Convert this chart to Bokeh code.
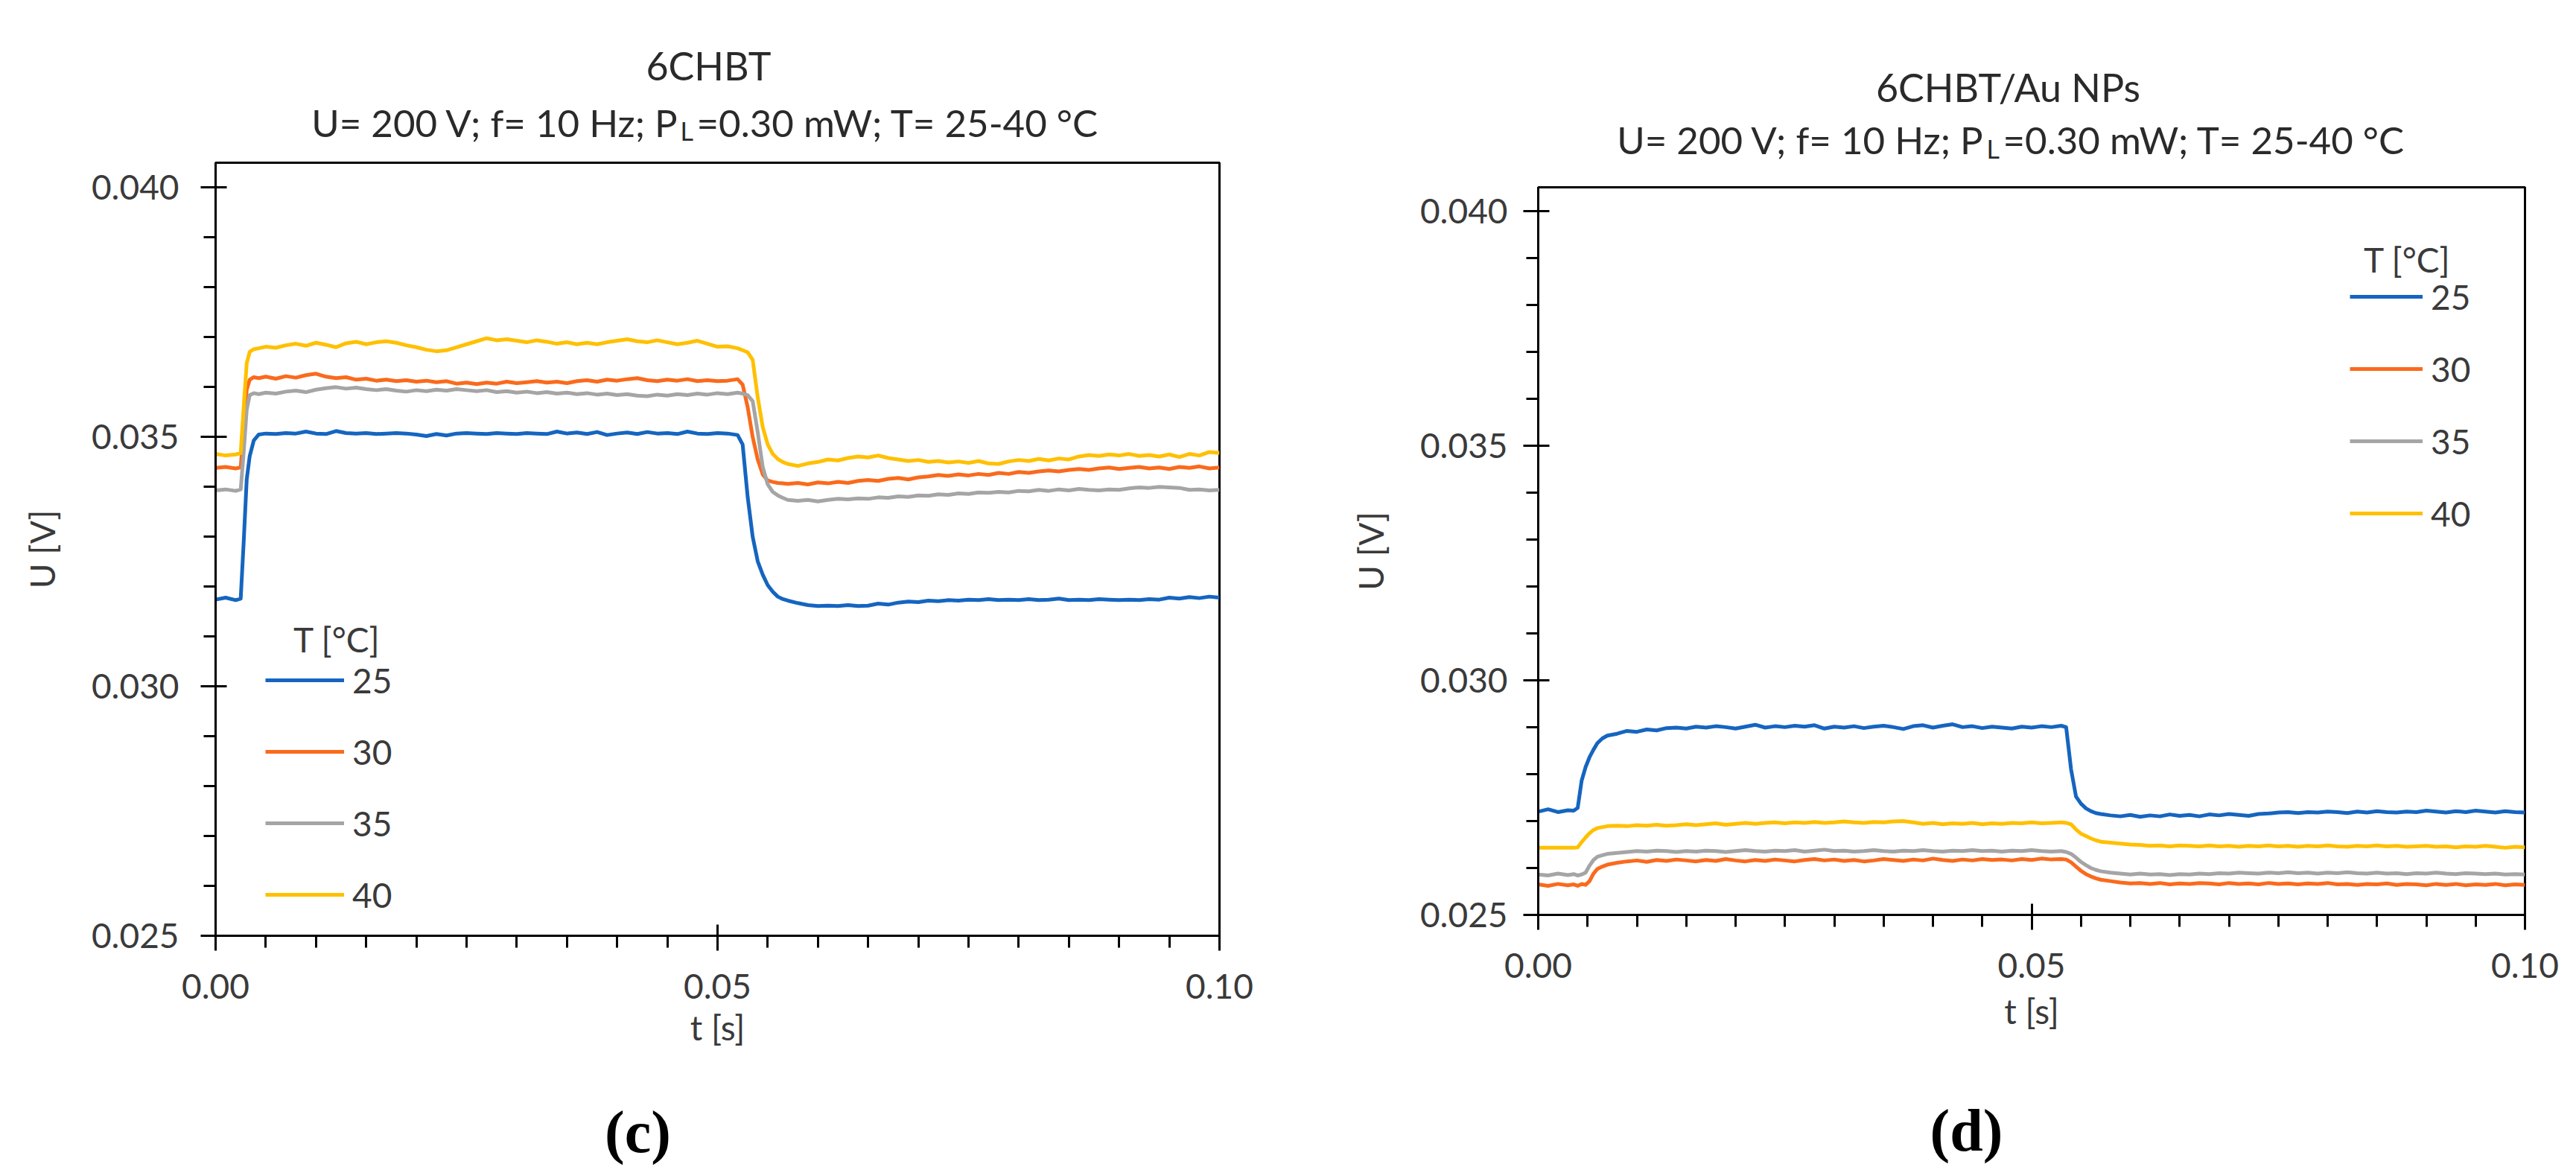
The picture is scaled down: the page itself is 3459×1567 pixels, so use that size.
from bokeh.plotting import figure
from bokeh.models import (ColumnDataSource, Range1d, SingleIntervalTicker,
                          NumeralTickFormatter, Legend, LegendItem, Label)
from bokeh.layouts import row, column
from bokeh.embed import file_html
from bokeh.resources import INLINE

# ---------------- data ----------------
temps = ["25", "30", "35", "40"]
colors = ["#1565C0", "#FA6A1C", "#A5A5A5", "#FFC000"]

# panel (c): 6CHBT
t_c = [0.0, 0.001, 0.002, 0.0025, 0.0028, 0.0031, 0.0034, 0.0038, 0.0043,
       0.005, 0.006, 0.007, 0.008, 0.009, 0.010, 0.011, 0.012,
       0.013, 0.014, 0.015, 0.016, 0.017, 0.018, 0.019, 0.020,
       0.021, 0.022, 0.023, 0.024, 0.025, 0.026, 0.027, 0.028,
       0.029, 0.030, 0.031, 0.032, 0.033, 0.034, 0.035, 0.036,
       0.037, 0.038, 0.039, 0.040, 0.041, 0.042, 0.043, 0.044,
       0.045, 0.046, 0.047, 0.048, 0.049, 0.050, 0.051, 0.052,
       0.0525, 0.053, 0.0535, 0.054, 0.0545, 0.055, 0.0555, 0.056, 0.0565,
       0.057, 0.058, 0.059, 0.060, 0.061, 0.062, 0.063, 0.064, 0.065, 0.066, 0.067,
       0.068, 0.069, 0.070, 0.071, 0.072, 0.073, 0.074, 0.075, 0.076, 0.077, 0.078,
       0.079, 0.080, 0.081, 0.082, 0.083, 0.084, 0.085, 0.086, 0.087, 0.088, 0.089,
       0.090, 0.091, 0.092, 0.093, 0.094, 0.095, 0.096, 0.097, 0.098, 0.099, 0.100]

u_c_25 = [0.03174, 0.03178, 0.03173, 0.03176, 0.03290, 0.03415, 0.03462, 0.03493, 0.03505,
          0.03507, 0.03506, 0.03508, 0.03507, 0.03511, 0.03507, 0.03506, 0.03512,
          0.03508, 0.03507, 0.03508, 0.03506, 0.03507, 0.03508, 0.03507, 0.03505,
          0.03502, 0.03506, 0.03503, 0.03507, 0.03508, 0.03507, 0.03506, 0.03508,
          0.03507, 0.03506, 0.03508, 0.03507, 0.03506, 0.03511, 0.03507, 0.03509,
          0.03506, 0.03510, 0.03504, 0.03507, 0.03509, 0.03506, 0.03510, 0.03507,
          0.03508, 0.03506, 0.03511, 0.03507, 0.03506, 0.03508, 0.03507, 0.03504,
          0.03485, 0.03380, 0.03300, 0.03251, 0.03224, 0.03203, 0.03190, 0.03180, 0.03175,
          0.03172, 0.03167, 0.03163, 0.03161, 0.03162, 0.03161, 0.03163, 0.03161, 0.03162, 0.03166, 0.03164,
          0.03168, 0.03170, 0.03169, 0.03172, 0.03171, 0.03173, 0.03172, 0.03174, 0.03173, 0.03175, 0.03173,
          0.03174, 0.03173, 0.03175, 0.03173, 0.03174, 0.03176, 0.03173, 0.03174, 0.03173, 0.03175, 0.03174,
          0.03173, 0.03174, 0.03173, 0.03175, 0.03174, 0.03178, 0.03176, 0.03179, 0.03177, 0.03180, 0.03178]

u_c_30 = [0.03438, 0.03440, 0.03437, 0.03439, 0.03520, 0.03595, 0.03615, 0.03620, 0.03618,
          0.03621, 0.03617, 0.03622, 0.03619, 0.03624, 0.03627, 0.03621, 0.03618,
          0.03620, 0.03615, 0.03617, 0.03613, 0.03615, 0.03612, 0.03614, 0.03611,
          0.03613, 0.03610, 0.03612, 0.03607, 0.03609, 0.03606, 0.03609, 0.03607,
          0.03611, 0.03608, 0.03610, 0.03612, 0.03609, 0.03611, 0.03608, 0.03612,
          0.03614, 0.03611, 0.03615, 0.03613, 0.03616, 0.03618, 0.03614, 0.03612,
          0.03615, 0.03613, 0.03616, 0.03612, 0.03614, 0.03612, 0.03613, 0.03616,
          0.03605, 0.03560, 0.03500, 0.03455, 0.03425, 0.03413, 0.03410, 0.03408, 0.03407,
          0.03406, 0.03408, 0.03405, 0.03409, 0.03407, 0.03410, 0.03408, 0.03412, 0.03414, 0.03412, 0.03416,
          0.03418, 0.03415, 0.03419, 0.03421, 0.03424, 0.03422, 0.03425, 0.03423, 0.03426, 0.03424, 0.03428,
          0.03426, 0.03430, 0.03428, 0.03431, 0.03433, 0.03431, 0.03434, 0.03436, 0.03434, 0.03437, 0.03439,
          0.03436, 0.03438, 0.03440, 0.03437, 0.03439, 0.03436, 0.03440, 0.03438, 0.03441, 0.03437, 0.03439]

u_c_35 = [0.03393, 0.03395, 0.03392, 0.03395, 0.03470, 0.03555, 0.03584, 0.03588, 0.03586,
          0.03589, 0.03587, 0.03591, 0.03593, 0.03590, 0.03595, 0.03598, 0.03600,
          0.03597, 0.03599, 0.03596, 0.03594, 0.03596, 0.03593, 0.03591, 0.03594,
          0.03592, 0.03595, 0.03593, 0.03596, 0.03594, 0.03592, 0.03594, 0.03590,
          0.03592, 0.03589, 0.03591, 0.03588, 0.03590, 0.03587, 0.03589, 0.03586,
          0.03588, 0.03585, 0.03587, 0.03584, 0.03586, 0.03583, 0.03582, 0.03585,
          0.03583, 0.03586, 0.03584, 0.03587, 0.03585, 0.03588, 0.03586, 0.03589,
          0.03587, 0.03584, 0.03572, 0.03510, 0.03440, 0.03405, 0.03390, 0.03383, 0.03378,
          0.03374, 0.03372, 0.03374, 0.03371, 0.03374, 0.03376, 0.03375, 0.03377, 0.03376, 0.03379, 0.03378,
          0.03381, 0.03380, 0.03383, 0.03382, 0.03385, 0.03384, 0.03387, 0.03386, 0.03389, 0.03388, 0.03390,
          0.03389, 0.03392, 0.03391, 0.03394, 0.03392, 0.03395, 0.03393, 0.03396, 0.03394, 0.03393, 0.03395,
          0.03394, 0.03397, 0.03399, 0.03398, 0.03400, 0.03399, 0.03398, 0.03394, 0.03395, 0.03393, 0.03394]

u_c_40 = [0.03466, 0.03463, 0.03465, 0.03468, 0.03560, 0.03648, 0.03671, 0.03676, 0.03678,
          0.03681, 0.03679, 0.03684, 0.03687, 0.03683, 0.03689, 0.03685, 0.03680,
          0.03688, 0.03691, 0.03686, 0.03690, 0.03692, 0.03689, 0.03684, 0.03680,
          0.03675, 0.03672, 0.03674, 0.03680, 0.03686, 0.03692, 0.03698, 0.03694,
          0.03696, 0.03693, 0.03690, 0.03694, 0.03691, 0.03687, 0.03690, 0.03686,
          0.03689, 0.03686, 0.03690, 0.03693, 0.03696, 0.03692, 0.03690, 0.03694,
          0.03690, 0.03686, 0.03689, 0.03693, 0.03687, 0.03681, 0.03682, 0.03678,
          0.03674, 0.03670, 0.03655, 0.03580, 0.03520, 0.03485, 0.03466, 0.03456, 0.03450,
          0.03446, 0.03442, 0.03447, 0.03450, 0.03455, 0.03453, 0.03458, 0.03461, 0.03459, 0.03463, 0.03458,
          0.03455, 0.03452, 0.03454, 0.03450, 0.03452, 0.03449, 0.03451, 0.03448, 0.03452, 0.03447, 0.03446,
          0.03451, 0.03454, 0.03452, 0.03456, 0.03453, 0.03457, 0.03455, 0.03461, 0.03464, 0.03462, 0.03465,
          0.03463, 0.03466, 0.03462, 0.03464, 0.03461, 0.03465, 0.03460, 0.03466, 0.03463, 0.03470, 0.03468]

# panel (d): 6CHBT/Au NPs
t_d = [0.0, 0.001, 0.002, 0.003, 0.0036, 0.004, 0.0044, 0.0048, 0.0052, 0.0056, 0.006, 0.0065,
       0.007, 0.008, 0.009, 0.010, 0.011, 0.012, 0.013, 0.014,
       0.015, 0.016, 0.017, 0.018, 0.019, 0.020, 0.021, 0.022,
       0.023, 0.024, 0.025, 0.026, 0.027, 0.028, 0.029, 0.030,
       0.031, 0.032, 0.033, 0.034, 0.035, 0.036, 0.037, 0.038,
       0.039, 0.040, 0.041, 0.042, 0.043, 0.044, 0.045, 0.046,
       0.047, 0.048, 0.049, 0.050, 0.051, 0.052, 0.053,
       0.0535, 0.054, 0.0545, 0.055, 0.0555, 0.056, 0.0565,
       0.057, 0.058, 0.059, 0.060, 0.061, 0.062, 0.063, 0.064, 0.065, 0.066, 0.067,
       0.068, 0.069, 0.070, 0.071, 0.072, 0.073, 0.074, 0.075, 0.076, 0.077, 0.078,
       0.079, 0.080, 0.081, 0.082, 0.083, 0.084, 0.085, 0.086, 0.087, 0.088, 0.089,
       0.090, 0.091, 0.092, 0.093, 0.094, 0.095, 0.096, 0.097, 0.098, 0.099, 0.100]

u_d_25 = [0.02720, 0.02725, 0.02719, 0.02723, 0.02722, 0.02728, 0.02786, 0.02815, 0.02836, 0.02852, 0.02866, 0.02876,
          0.02882, 0.02886, 0.02892, 0.02890, 0.02895, 0.02893, 0.02898, 0.02899,
          0.02897, 0.02901, 0.02899, 0.02902, 0.02900, 0.02897, 0.02901, 0.02905,
          0.02899, 0.02902, 0.02900, 0.02903, 0.02901, 0.02904, 0.02897, 0.02901,
          0.02899, 0.02902, 0.02898, 0.02901, 0.02903, 0.02900, 0.02896, 0.02902,
          0.02904, 0.02899, 0.02903, 0.02906, 0.02900, 0.02902, 0.02898, 0.02901,
          0.02899, 0.02897, 0.02901, 0.02899, 0.02902, 0.02900, 0.02903,
          0.02900, 0.02810, 0.02752, 0.02737, 0.02727, 0.02721, 0.02717,
          0.02715, 0.02712, 0.02710, 0.02713, 0.02709, 0.02712, 0.02710, 0.02714, 0.02711, 0.02713, 0.02710,
          0.02714, 0.02712, 0.02715, 0.02713, 0.02711, 0.02715, 0.02716, 0.02718, 0.02719, 0.02717, 0.02719,
          0.02718, 0.02720, 0.02719, 0.02717, 0.02720, 0.02718, 0.02721, 0.02719, 0.02718, 0.02720, 0.02719,
          0.02722, 0.02720, 0.02718, 0.02721, 0.02719, 0.02722, 0.02720, 0.02718, 0.02721, 0.02719, 0.02718]

u_d_30 = [0.02565, 0.02562, 0.02566, 0.02563, 0.02565, 0.02562, 0.02566, 0.02564, 0.02572, 0.02588, 0.02598, 0.02603,
          0.02607, 0.02611, 0.02614, 0.02616, 0.02613, 0.02617, 0.02615, 0.02618,
          0.02616, 0.02614, 0.02617, 0.02615, 0.02619, 0.02616, 0.02614, 0.02617,
          0.02615, 0.02618, 0.02616, 0.02614, 0.02617, 0.02619, 0.02616, 0.02618,
          0.02615, 0.02617, 0.02614, 0.02616, 0.02619, 0.02617, 0.02615, 0.02618,
          0.02616, 0.02620, 0.02617, 0.02615, 0.02618, 0.02616, 0.02619, 0.02617,
          0.02618, 0.02616, 0.02619, 0.02617, 0.02620, 0.02618, 0.02619,
          0.02618, 0.02612, 0.02603, 0.02594, 0.02587, 0.02582, 0.02578,
          0.02575, 0.02572, 0.02569, 0.02567, 0.02568, 0.02566, 0.02568, 0.02565, 0.02567, 0.02566, 0.02568,
          0.02567, 0.02565, 0.02568, 0.02566, 0.02567, 0.02565, 0.02568, 0.02566, 0.02567, 0.02565, 0.02567,
          0.02566, 0.02568, 0.02565, 0.02566, 0.02564, 0.02566, 0.02565, 0.02567, 0.02564, 0.02566, 0.02565,
          0.02563, 0.02566, 0.02564, 0.02566, 0.02563, 0.02565, 0.02564, 0.02566, 0.02563, 0.02565, 0.02564]

u_d_35 = [0.02586, 0.02584, 0.02588, 0.02585, 0.02587, 0.02584, 0.02586, 0.02590, 0.02605, 0.02617, 0.02624, 0.02627,
          0.02630, 0.02632, 0.02634, 0.02636, 0.02635, 0.02637, 0.02636, 0.02634,
          0.02636, 0.02635, 0.02637, 0.02636, 0.02634, 0.02636, 0.02638, 0.02636,
          0.02635, 0.02637, 0.02636, 0.02638, 0.02635, 0.02637, 0.02639, 0.02636,
          0.02637, 0.02635, 0.02636, 0.02638, 0.02636, 0.02635, 0.02637, 0.02636,
          0.02638, 0.02636, 0.02635, 0.02637, 0.02636, 0.02638, 0.02636, 0.02637,
          0.02635, 0.02637, 0.02636, 0.02638, 0.02636, 0.02635, 0.02636,
          0.02634, 0.02630, 0.02622, 0.02613, 0.02606, 0.02600, 0.02596,
          0.02593, 0.02590, 0.02588, 0.02586, 0.02588, 0.02586, 0.02587, 0.02585, 0.02587, 0.02586, 0.02588,
          0.02587, 0.02589, 0.02588, 0.02590, 0.02589, 0.02588, 0.02590, 0.02589, 0.02591, 0.02589, 0.02590,
          0.02588, 0.02590, 0.02589, 0.02591, 0.02589, 0.02588, 0.02590, 0.02588, 0.02589, 0.02587, 0.02589,
          0.02588, 0.02590, 0.02588, 0.02587, 0.02589, 0.02588, 0.02587, 0.02588, 0.02586, 0.02587, 0.02586]

u_d_40 = [0.02643, 0.02643, 0.02643, 0.02643, 0.02643, 0.02644, 0.02655, 0.02665, 0.02674, 0.02681, 0.02685, 0.02687,
          0.02689, 0.02690, 0.02689, 0.02691, 0.02690, 0.02692, 0.02690, 0.02691,
          0.02693, 0.02691, 0.02693, 0.02695, 0.02692, 0.02694, 0.02696, 0.02694,
          0.02696, 0.02697, 0.02695, 0.02697, 0.02696, 0.02698, 0.02696, 0.02697,
          0.02699, 0.02697, 0.02696, 0.02698, 0.02697, 0.02699, 0.02700, 0.02697,
          0.02694, 0.02696, 0.02693, 0.02695, 0.02694, 0.02696, 0.02693, 0.02695,
          0.02694, 0.02696, 0.02695, 0.02697, 0.02695, 0.02696, 0.02697,
          0.02696, 0.02693, 0.02682, 0.02673, 0.02668, 0.02663, 0.02659,
          0.02656, 0.02654, 0.02652, 0.02650, 0.02649, 0.02647, 0.02648, 0.02646, 0.02648, 0.02647, 0.02646,
          0.02648, 0.02646, 0.02647, 0.02645, 0.02647, 0.02646, 0.02648, 0.02646, 0.02647, 0.02645, 0.02647,
          0.02646, 0.02648, 0.02646, 0.02645, 0.02647, 0.02646, 0.02648, 0.02646, 0.02647, 0.02645, 0.02646,
          0.02647, 0.02645, 0.02646, 0.02644, 0.02646, 0.02645, 0.02647, 0.02645, 0.02643, 0.02645, 0.02644]

title_c = "6CHBT"
title_d = "6CHBT/Au NPs"
cond_a = "U= 200 V; f= 10 Hz; P"
cond_sub = "L"
cond_b = "=0.30 mW; T= 25-40 °C"
legend_title = "T [°C]"
x_label = "t [s]"
y_label = "U [V]"

# ---------------- styling ----------------
FONT = "Lato"
TXT = "#3a3a3a"
TITLE_TXT = "#2a2a2a"
TICK_SIZE = "46px"


def add_label(p, x, y, text, size, align="center", font=FONT, style="normal", color=TXT):
    p.add_layout(Label(x=x, y=y, x_units="screen", y_units="screen", text=text,
                       text_font=font, text_font_size=size, text_font_style=style,
                       text_align=align, text_baseline="alphabetic", text_color=color))


def text_fig(w, h):
    f = figure(width=w, height=h, output_backend="svg", toolbar_location=None,
               min_border=0, x_axis_location=None, y_axis_location=None,
               x_range=Range1d(0, 1), y_range=Range1d(0, 1))
    f.title.visible = False
    f.outline_line_color = None
    f.xgrid.visible = False
    f.ygrid.visible = False
    f.background_fill_color = "white"
    f.border_fill_color = "white"
    return f


def make_panel(t, series, cfg):
    p = figure(width=cfg["w"], height=cfg["h"], output_backend="svg", toolbar_location=None,
               x_range=Range1d(0, 0.1), y_range=Range1d(0.025, 0.0405),
               min_border_left=cfg["bl"], min_border_right=cfg["br"],
               min_border_top=cfg["bt"], min_border_bottom=cfg["bb"])
    p.title.visible = False
    p.background_fill_color = "white"
    p.border_fill_color = "white"
    p.outline_line_color = "black"
    p.outline_line_width = 3
    p.outline_line_alpha = 1.0
    p.xgrid.visible = False
    p.ygrid.visible = False

    xa = p.xaxis[0]
    xa.ticker = SingleIntervalTicker(interval=0.05, num_minor_ticks=10)
    xa.formatter = NumeralTickFormatter(format="0.00")
    xa.axis_label = x_label
    ya = p.yaxis[0]
    ya.ticker = SingleIntervalTicker(interval=0.005, num_minor_ticks=5)
    ya.formatter = NumeralTickFormatter(format="0.000")
    ya.axis_label = y_label
    for ax in (xa, ya):
        ax.axis_line_color = "black"
        ax.axis_line_width = 3
        ax.major_tick_line_color = "black"
        ax.minor_tick_line_color = "black"
        ax.major_tick_line_width = 3
        ax.minor_tick_line_width = 3
        ax.major_tick_in = 15
        ax.major_tick_out = 20
        ax.minor_tick_in = 0
        ax.minor_tick_out = 16
        ax.major_label_text_font = FONT
        ax.major_label_text_font_size = TICK_SIZE
        ax.major_label_text_color = TXT
        ax.axis_label_text_font = FONT
        ax.axis_label_text_font_size = TICK_SIZE
        ax.axis_label_text_font_style = "normal"
        ax.axis_label_text_color = TXT
    xa.major_label_standoff = cfg["x_std"]
    xa.axis_label_standoff = cfg["x_lab_std"]
    ya.major_label_standoff = cfg["y_std"]
    ya.axis_label_standoff = cfg["y_lab_std"]

    items = []
    for T, col, vals in zip(temps, colors, series):
        src = ColumnDataSource(dict(t=t, u=vals))
        r = p.line("t", "u", source=src, line_color=col, line_width=5, line_join="round")
        items.append(LegendItem(label=T, renderers=[r]))
    leg = Legend(items=items, location=cfg["leg_loc"], padding=0, margin=0,
                 spacing=cfg["leg_sp"], glyph_width=cfg["leg_gw"], glyph_height=56,
                 label_height=56, label_standoff=11,
                 label_text_font=FONT, label_text_font_size=TICK_SIZE, label_text_color=TXT,
                 border_line_alpha=0, background_fill_alpha=0)
    p.add_layout(leg)
    add_label(p, cfg["lt"][0], cfg["lt"][1], legend_title, TICK_SIZE)
    return p


def make_title(cfg):
    f = text_fig(cfg["w"], cfg["th"])
    add_label(f, cfg["t1"][0], cfg["t1"][1], cfg["title"], "52px", color=TITLE_TXT)
    add_label(f, cfg["ta"][0], cfg["ta"][1], cond_a, "51px", align="right", color=TITLE_TXT)
    add_label(f, cfg["ts"][0], cfg["ts"][1], cond_sub, "34px", align="left", color=TITLE_TXT)
    add_label(f, cfg["tb"][0], cfg["tb"][1], cond_b, "51px", align="left", color=TITLE_TXT)
    return f


def make_tag(cfg):
    f = text_fig(cfg["w"], cfg["lh"])
    add_label(f, cfg["pl"][0], cfg["pl"][1], cfg["panel"], "80px", font="Liberation Serif",
              style="bold", color="black")
    return f


# text positions in the text strips are measured from the plot frame's left edge
cfg_c = dict(w=1720, th=206, h=1230, lh=129,
             bl=289, br=83, bt=12, bb=180,
             x_std=31, x_lab_std=8, y_std=29, y_lab_std=36,
             leg_loc=(67, 27), leg_sp=40, leg_gw=106, lt=(163, 398),
             title=title_c, t1=(662, 119), ta=(622, 42), ts=(624, 31), tb=(646, 42),
             panel="(c)", pl=(567, 46))
cfg_d = dict(w=1737, th=239, h=1169, lh=157,
             bl=345, br=67, bt=12, bb=180,
             x_std=31, x_lab_std=14, y_std=21, y_lab_std=36,
             leg_loc=(1090, 511), leg_sp=41, leg_gw=98, lt=(1167, 880),
             title=title_d, t1=(631, 123), ta=(599, 52), ts=(602, 40), tb=(624, 52),
             panel="(d)", pl=(575, 48))

col_c = column(make_title(cfg_c),
               make_panel(t_c, [u_c_25, u_c_30, u_c_35, u_c_40], cfg_c),
               make_tag(cfg_c))
col_d = column(make_title(cfg_d),
               make_panel(t_d, [u_d_25, u_d_30, u_d_35, u_d_40], cfg_d),
               make_tag(cfg_d))

layout = row(col_c, col_d)
open("out.html", "w").write(file_html(layout, INLINE))
